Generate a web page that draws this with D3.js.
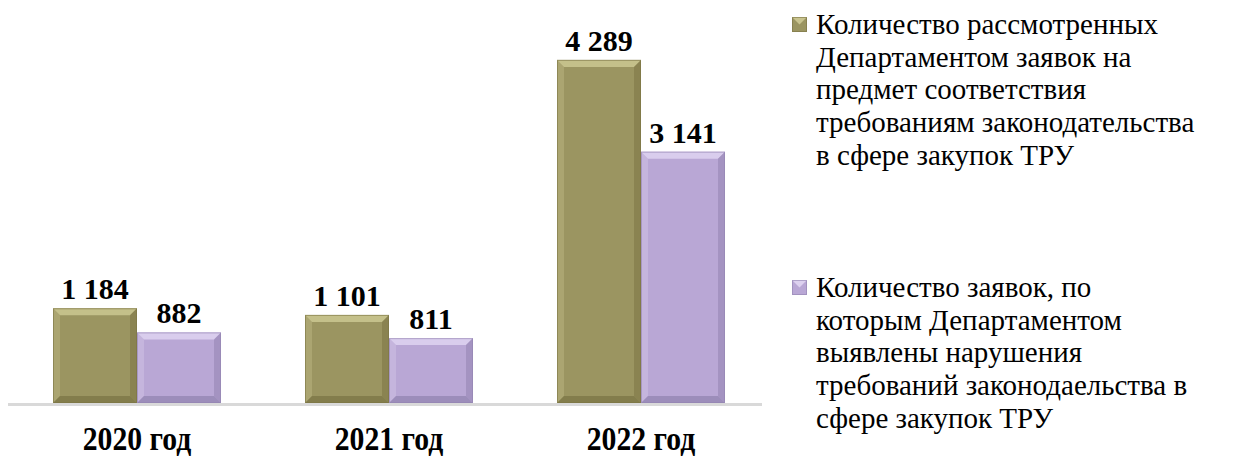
<!DOCTYPE html>
<html>
<head>
<meta charset="utf-8">
<script src="https://cdn.jsdelivr.net/npm/d3@7"></script>
</head>
<body style="margin:0">
<svg id="chart" width="1236" height="457"></svg>
<script>
// ---- data ----
const years = ['2020 год', '2021 год', '2022 год'];
const seriesNames = [
    'Количество рассмотренных Департаментом заявок на предмет соответствия требованиям законодательства в сфере закупок ТРУ',
    'Количество заявок, по которым Департаментом выявлены нарушения требований законодаельства в сфере закупок ТРУ'
];
const reviewed = [1184, 1101, 4289];
const violations = [882, 811, 3141];

// legend lines as they wrap in the original
const legendLines = [
    ['Количество рассмотренных', 'Департаментом заявок на', 'предмет соответствия', 'требованиям законодательства', 'в сфере закупок ТРУ'],
    ['Количество заявок, по', 'которым Департаментом', 'выявлены нарушения', 'требований законодаельства в', 'сфере закупок ТРУ']
];

const colors = ['#9b9561', '#b9a7d5'];
const lights = ['#c9c48f', '#ddd1ef'];
const darks = ['#7b7545', '#9384b0'];
const fams = ['Liberation Serif', 'Liberation Sans'];
const fontOf = () => `'${fams[0]}', '${fams[1]}'`;

// ---- layout ----
const svg = d3.select('#chart');
const baseY = 403;

const x0 = d3.scaleBand().domain(years).range([11, 767]).paddingInner(1 / 3).paddingOuter(1 / 6);
const x1 = d3.scaleBand().domain([0, 1]).range([0, x0.bandwidth()]);
const y = d3.scaleLinear().domain([0, 5000]).range([baseY, 3]);

const fmt = v => d3.format(',')(v).replace(/,/g, ' ');

const rows = years.map((yr, i) => ({ yr, vals: [reviewed[i], violations[i]] }));

// axis line
svg.append('line')
    .attr('x1', 8).attr('x2', 762)
    .attr('y1', baseY + 1.5).attr('y2', baseY + 1.5)
    .attr('stroke', '#d9d9d9').attr('stroke-width', 3);

// bevelled bar
function bevelBar(g, bx, by, bw, bh, s) {
    const b = Math.min(7, bh / 2);
    g.append('rect').attr('x', bx).attr('y', by).attr('width', bw).attr('height', bh)
        .attr('fill', colors[s]);
    // top facet
    g.append('polygon')
        .attr('points', [[bx, by], [bx + bw, by], [bx + bw - b, by + b], [bx + b, by + b]].join(' '))
        .attr('fill', lights[s]).attr('opacity', 0.9);
    // left facet
    g.append('polygon')
        .attr('points', [[bx, by], [bx + b, by + b], [bx + b, by + bh - b], [bx, by + bh]].join(' '))
        .attr('fill', lights[s]).attr('opacity', 0.35);
    // right facet
    g.append('polygon')
        .attr('points', [[bx + bw, by], [bx + bw, by + bh], [bx + bw - b, by + bh - b], [bx + bw - b, by + b]].join(' '))
        .attr('fill', darks[s]).attr('opacity', 0.55);
    // bottom facet
    g.append('polygon')
        .attr('points', [[bx, by + bh], [bx + b, by + bh - b], [bx + bw - b, by + bh - b], [bx + bw, by + bh]].join(' '))
        .attr('fill', darks[s]).attr('opacity', 0.75);
    g.append('rect').attr('x', bx + 0.5).attr('y', by + 0.5).attr('width', bw - 1).attr('height', bh - 1)
        .attr('fill', 'none').attr('stroke', darks[s]).attr('stroke-opacity', 0.6);
}

const groups = svg.selectAll('g.year')
    .data(rows)
    .join('g')
    .attr('class', 'year')
    .attr('transform', d => `translate(${x0(d.yr)},0)`);

groups.each(function (d) {
    const g = d3.select(this);
    d.vals.forEach((v, s) => {
        bevelBar(g, x1(s), y(v), x1.bandwidth(), baseY - y(v), s);
        g.append('text')
            .attr('x', x1(s) + x1.bandwidth() / 2)
            .attr('y', y(v) - 9)
            .attr('text-anchor', 'middle')
            .style('font-family', fontOf)
            .style('font-weight', 'bold')
            .attr('font-size', 30)
            .text(fmt(v));
    });
});

// category labels (condensed bold, as in the original)
svg.selectAll('text.cat')
    .data(years)
    .join('text')
    .attr('class', 'cat')
    .attr('text-anchor', 'middle')
    .style('font-family', fontOf)
    .style('font-weight', 'bold')
    .attr('font-size', 33)
    .attr('transform', d => `translate(${x0(d) + x0.bandwidth() / 2},450) scale(0.9,1)`)
    .text(d => d);

// legend
const legendTop = [16, 279];
seriesNames.forEach((name, s) => {
    const lg = svg.append('g').attr('class', 'legend');
    lg.append('title').text(name);
    const my = legendTop[s];
    const m = 15;
    lg.append('rect').attr('x', 792).attr('y', my + 1).attr('width', m).attr('height', m).attr('fill', colors[s]);
    lg.append('polygon')
        .attr('points', [[792, my + 1], [792 + m, my + 1], [792 + m / 2, my + 1 + m / 2]].join(' '))
        .attr('fill', lights[s]);
    lg.append('rect').attr('x', 792.5).attr('y', my + 1.5).attr('width', m - 1).attr('height', m - 1)
        .attr('fill', 'none').attr('stroke', darks[s]).attr('stroke-opacity', 0.6);
    lg.selectAll('text.line')
        .data(legendLines[s])
        .join('text')
        .attr('class', 'line')
        .attr('x', 816)
        .attr('y', (d, i) => my + 18 + i * 32.7)
        .style('font-family', fontOf)
        .attr('font-size', 29)
        .text(d => d);
});
</script>
</body>
</html>
